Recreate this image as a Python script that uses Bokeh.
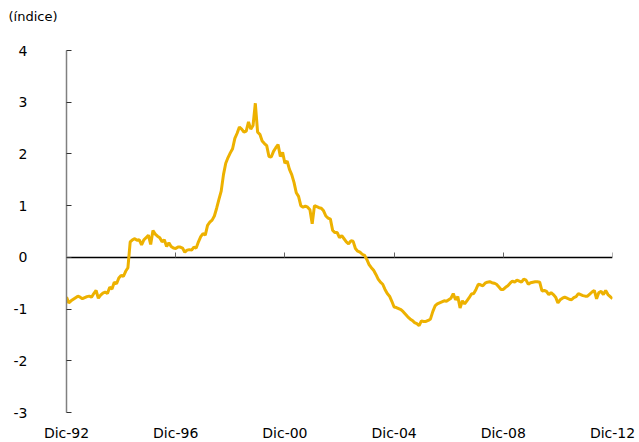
from bokeh.plotting import figure
from bokeh.models import Range1d, LinearAxis, FixedTicker
from bokeh.embed import file_html
from bokeh.resources import INLINE

# monthly index, 0 = Dic-92 ... 240 = Dic-12
values = [
    -0.77, -0.88, -0.84, -0.81, -0.78, -0.75, -0.77, -0.80, -0.78, -0.76,
    -0.75, -0.77, -0.70, -0.64, -0.79, -0.73, -0.69, -0.67, -0.70, -0.58,
    -0.61, -0.48, -0.51, -0.40, -0.35, -0.37, -0.27, -0.20, 0.30, 0.34,
    0.36, 0.33, 0.34, 0.24, 0.34, 0.38, 0.43, 0.25, 0.52, 0.45,
    0.41, 0.38, 0.30, 0.34, 0.21, 0.28, 0.21, 0.18, 0.17, 0.20,
    0.20, 0.18, 0.10, 0.14, 0.15, 0.14, 0.20, 0.18, 0.30, 0.40,
    0.46, 0.43, 0.62, 0.68, 0.72, 0.80, 0.95, 1.12, 1.28, 1.60,
    1.82, 1.93, 2.02, 2.10, 2.30, 2.40, 2.52, 2.48, 2.42, 2.44,
    2.62, 2.48, 2.55, 2.98, 2.42, 2.38, 2.25, 2.20, 2.16, 1.95,
    1.94, 2.05, 2.12, 2.18, 1.95, 2.03, 1.82, 1.86, 1.70, 1.60,
    1.45, 1.25, 1.18, 1.00, 0.97, 0.99, 0.97, 0.92, 0.65, 1.00,
    0.98, 0.96, 0.95, 0.90, 0.80, 0.76, 0.74, 0.52, 0.48, 0.48,
    0.38, 0.42, 0.36, 0.30, 0.26, 0.32, 0.31, 0.17, 0.12, 0.10,
    0.06, 0.04, -0.04, -0.14, -0.20, -0.25, -0.33, -0.42, -0.48, -0.52,
    -0.62, -0.70, -0.75, -0.85, -0.96, -0.97, -0.99, -1.01, -1.05, -1.10,
    -1.15, -1.19, -1.22, -1.26, -1.28, -1.32, -1.23, -1.24, -1.24, -1.22,
    -1.19, -1.05, -0.94, -0.90, -0.88, -0.86, -0.84, -0.85, -0.82, -0.79,
    -0.70, -0.82, -0.76, -0.98, -0.84, -0.90, -0.84, -0.78, -0.71, -0.70,
    -0.62, -0.52, -0.53, -0.55, -0.50, -0.48, -0.47, -0.49, -0.50, -0.52,
    -0.57, -0.62, -0.62, -0.58, -0.55, -0.50, -0.46, -0.48, -0.44, -0.46,
    -0.48, -0.42, -0.44, -0.52, -0.49, -0.48, -0.47, -0.47, -0.48, -0.65,
    -0.64, -0.66, -0.72, -0.68, -0.72, -0.77, -0.88, -0.82, -0.79, -0.77,
    -0.79, -0.81, -0.82, -0.78, -0.76, -0.70, -0.72, -0.74, -0.75, -0.75,
    -0.71, -0.67, -0.64, -0.80, -0.68, -0.66, -0.72, -0.64, -0.72, -0.76,
    -0.80,
]
months = list(range(len(values)))

x_tick_months = [0, 48, 96, 144, 192, 240]
x_tick_labels = ["Dic-92", "Dic-96", "Dic-00", "Dic-04", "Dic-08", "Dic-12"]
y_ticks = [-3, -2, -1, 0, 1, 2, 3, 4]
y_tick_labels = ["-3", "-2", "-1", "0", "1", "2", "3", "4"]
y_title = "(índice)"

FONT = "DejaVu Sans"

p = figure(frame_width=546, frame_height=362, output_backend="svg",
           toolbar_location=None, title=y_title,
           x_range=Range1d(0, 240), y_range=Range1d(-3, 4),
           min_border_left=66, min_border_right=27, min_border_top=50,
           min_border_bottom=30)
p.outline_line_color = None
p.grid.visible = False
p.background_fill_color = "white"

# grab the default axes before adding any others
xa = p.below[0]
ya = p.left[0]

p.title.align = "left"
p.title.vertical_align = "bottom"
p.title.offset = -58
p.title.standoff = 2
p.title.text_font = FONT
p.title.text_font_size = "13px"
p.title.text_font_style = "normal"
p.title.text_color = "black"

# bottom axis: labels only
xa.ticker = FixedTicker(ticks=x_tick_months)
xa.major_label_overrides = {m: l for m, l in zip(x_tick_months, x_tick_labels)}
xa.axis_line_color = None
xa.major_tick_line_color = None
xa.minor_tick_line_color = None
xa.major_tick_out = 0
xa.major_tick_in = 0
xa.major_label_standoff = 12
xa.major_label_text_font = FONT
xa.major_label_text_font_size = "14px"
xa.major_label_text_color = "black"

# y axis
ya.ticker = FixedTicker(ticks=y_ticks)
ya.major_label_overrides = {t: l for t, l in zip(y_ticks, y_tick_labels)}
ya.axis_line_color = "#808080"
ya.axis_line_width = 1.5
ya.major_tick_line_color = "#333333"
ya.major_tick_in = 5
ya.major_tick_out = 0
ya.minor_tick_line_color = None
ya.major_label_standoff = 39
ya.major_label_text_font = FONT
ya.major_label_text_font_size = "14px"
ya.major_label_text_color = "black"

# blank spacer axis above the frame (white tick on white): lifts the title
spacer = LinearAxis(ticker=FixedTicker(ticks=[120]))
spacer.axis_line_color = None
spacer.major_tick_line_color = "white"
spacer.minor_tick_line_color = None
spacer.major_tick_out = 26
spacer.major_tick_in = 0
spacer.minor_tick_out = 0
spacer.major_label_standoff = 0
spacer.major_label_overrides = {120: ""}
spacer.major_label_text_color = None
p.add_layout(spacer, "above")

# zero line axis with upward ticks
zx = LinearAxis(fixed_location=0, ticker=FixedTicker(ticks=x_tick_months))
zx.axis_line_color = "black"
zx.axis_line_width = 1.5
zx.major_tick_line_color = "#666666"
zx.major_tick_in = 5
zx.major_tick_out = 0
zx.minor_tick_line_color = None
zx.major_label_standoff = 0
zx.major_label_text_font_size = "0px"
zx.major_label_text_color = None
zx.level = "underlay"
p.add_layout(zx, "below")

p.line(months, values, line_color="#EDB100", line_width=3)

open("out.html", "w").write(file_html(p, INLINE))
